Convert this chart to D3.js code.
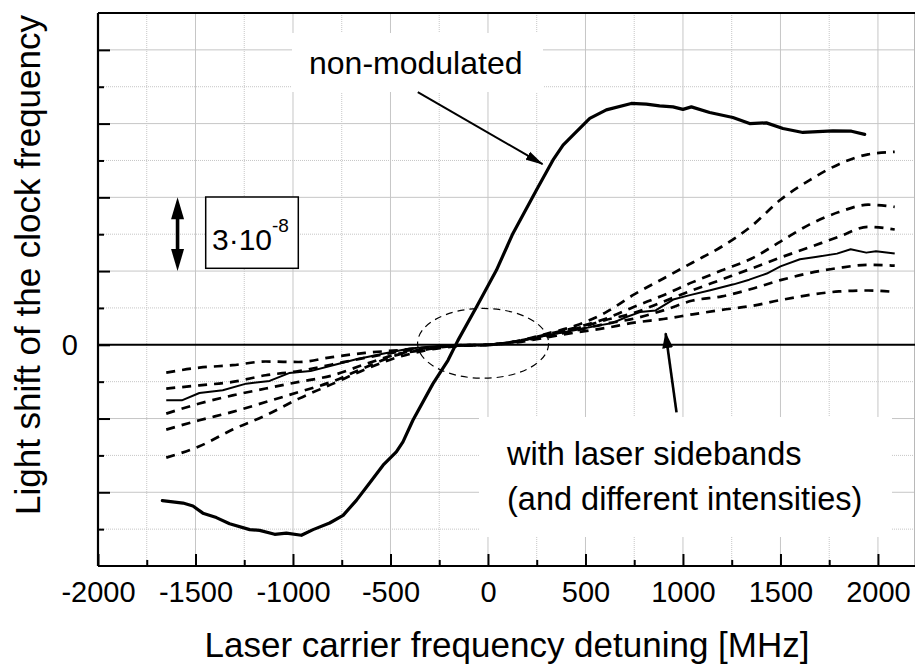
<!DOCTYPE html>
<html>
<head>
<meta charset="utf-8">
<title>Light shift vs detuning</title>
<script src="https://cdn.jsdelivr.net/npm/d3@7"></script>
<style>
  body { margin: 0; background: #fff; }
  #chart text { font-family: "Liberation Sans", Arial, sans-serif; fill: #000; }
  #chart .tick line { stroke: #000; stroke-width: 2; }
  #chart .domain { display: none; }
</style>
</head>
<body>
<svg id="chart"></svg>
<script>
// x: laser carrier detuning [MHz], y: light shift in units of 1e-8
var xTicks = [-2000, -1500, -1000, -500, 0, 500, 1000, 1500, 2000];
var xMinor = [-1750, -1250, -750, -250, 250, 750, 1250, 1750];
var yTicks = [-6, -3, 0, 3, 6, 9, 12];
var yMinor = [-7.5, -4.5, -1.5, 1.5, 4.5, 7.5, 10.5];

// non-modulated laser
var nonModX = [-1670, -1564, -1513, -1462, -1393, -1325, -1222, -1171, -1094, -1034, -957, -897, -812, -743, -675, -607, -538, -470, -436, -385, -282, -205, -154, -59, 43, 128, 248, 333, 385, 436, 522, 607, 735, 812, 880, 949, 1000, 1043, 1137, 1256, 1342, 1428, 1513, 1615, 1769, 1864, 1932];
var nonModY = [-6.34, -6.44, -6.56, -6.85, -7.03, -7.28, -7.52, -7.55, -7.71, -7.66, -7.75, -7.52, -7.25, -6.94, -6.33, -5.62, -4.90, -4.36, -3.95, -3.07, -1.58, -0.63, 0.18, 1.54, 3.03, 4.53, 6.29, 7.51, 8.12, 8.53, 9.21, 9.56, 9.82, 9.79, 9.72, 9.68, 9.58, 9.68, 9.45, 9.25, 9.00, 9.03, 8.80, 8.64, 8.70, 8.69, 8.56];

// with laser sidebands, different intensities (dashed)
var sideX = [-1650, -1480, -1310, -1140, -970, -800, -630, -460, -300, -150, 0, 150, 300, 450, 600, 750, 900, 1050, 1200, 1350, 1500, 1650, 1800, 1950, 2086];
var sideA = [-4.59, -4.13, -3.45, -2.87, -2.19, -1.60, -1.00, -0.50, -0.20, -0.05, 0.00, 0.15, 0.45, 0.78, 1.30, 2.05, 2.70, 3.35, 4.00, 4.82, 5.90, 6.70, 7.35, 7.75, 7.85];
var sideB = [-3.45, -3.07, -2.73, -2.33, -1.92, -1.50, -0.92, -0.40, -0.17, -0.03, 0.00, 0.15, 0.42, 0.70, 1.05, 1.55, 2.02, 2.55, 3.03, 3.50, 4.20, 4.90, 5.40, 5.70, 5.61];
var sideC = [-2.80, -2.39, -2.06, -1.78, -1.51, -1.25, -0.79, -0.37, -0.15, -0.03, 0.00, 0.14, 0.40, 0.65, 1.00, 1.30, 1.76, 2.22, 2.66, 3.10, 3.55, 3.97, 4.40, 4.80, 4.69];
var sideD = [-1.78, -1.65, -1.51, -1.24, -1.07, -0.80, -0.53, -0.29, -0.12, -0.02, 0.00, 0.13, 0.35, 0.58, 0.85, 1.07, 1.40, 1.80, 1.97, 2.27, 2.63, 2.92, 3.13, 3.25, 3.22];
var sideE = [-1.13, -0.93, -0.83, -0.68, -0.70, -0.50, -0.33, -0.22, -0.10, -0.02, 0.00, 0.10, 0.30, 0.50, 0.68, 0.90, 1.05, 1.24, 1.42, 1.58, 1.82, 2.03, 2.17, 2.21, 2.15];

// with laser sidebands (solid thin)
var solidX = [-1650, -1570, -1480, -1360, -1240, -1120, -1020, -910, -800, -680, -540, -400, -300, -150, 0, 150, 300, 450, 570, 640, 710, 780, 860, 950, 1030, 1140, 1260, 1340, 1430, 1500, 1600, 1680, 1790, 1860, 1940, 1990, 2086];
var solidY = [-2.26, -2.26, -1.96, -1.85, -1.58, -1.47, -1.15, -1.07, -0.84, -0.60, -0.36, -0.15, -0.08, 0.00, 0.00, 0.14, 0.38, 0.60, 0.79, 0.89, 1.13, 1.33, 1.40, 1.84, 2.01, 2.22, 2.46, 2.65, 2.90, 3.19, 3.48, 3.57, 3.71, 3.89, 3.75, 3.81, 3.71];

var margin = {top: 13, right: 1, bottom: 100, left: 98};
var width = 916 - margin.left - margin.right,
    height = 666 - margin.top - margin.bottom;

var svg = d3.select("#chart")
    .attr("width", 916)
    .attr("height", 666);

var x = d3.scaleLinear().domain([-2000, 2190]).range([0, width]);
var y = d3.scaleLinear().domain([-9, 13.5]).range([height, 0]);

var gridG = svg.append("g").attr("transform", "translate(" + margin.left + "," + margin.top + ")");
var boxG = svg.append("g");
var plot = svg.append("g").attr("transform", "translate(" + margin.left + "," + margin.top + ")");
var notes = svg.append("g");

// grid
gridG.selectAll("line.vmaj").data(xTicks.slice(1)).enter().append("line")
    .attr("x1", d => x(d)).attr("x2", d => x(d)).attr("y1", 0).attr("y2", height)
    .attr("stroke", "#c6c6c6").attr("stroke-width", 1);
gridG.selectAll("line.vmin").data(xMinor).enter().append("line")
    .attr("x1", d => x(d)).attr("x2", d => x(d)).attr("y1", 0).attr("y2", height)
    .attr("stroke", "#c6c6c6").attr("stroke-width", 1).attr("stroke-dasharray", "1,1");
gridG.selectAll("line.hmaj").data(yTicks.filter(d => d !== 0)).enter().append("line")
    .attr("x1", 0).attr("x2", width).attr("y1", d => y(d)).attr("y2", d => y(d))
    .attr("stroke", "#c6c6c6").attr("stroke-width", 1);
gridG.selectAll("line.hmin").data(yMinor).enter().append("line")
    .attr("x1", 0).attr("x2", width).attr("y1", d => y(d)).attr("y2", d => y(d))
    .attr("stroke", "#c6c6c6").attr("stroke-width", 1).attr("stroke-dasharray", "1,1");
gridG.append("line").attr("x1", width - 0.5).attr("x2", width - 0.5).attr("y1", 0).attr("y2", height)
    .attr("stroke", "#b8b8b8").attr("stroke-width", 1);

// white boxes behind the labels
boxG.append("rect").attr("x", 292).attr("y", 33).attr("width", 251).attr("height", 59).attr("fill", "#fff");
boxG.append("rect").attr("x", 479).attr("y", 417).attr("width", 413).attr("height", 120).attr("fill", "#fff");

// frame + zero line
plot.append("line").attr("x1", 0).attr("x2", width).attr("y1", 0).attr("y2", 0).attr("stroke", "#000").attr("stroke-width", 2.2);
plot.append("line").attr("x1", 0).attr("x2", width).attr("y1", height).attr("y2", height).attr("stroke", "#000").attr("stroke-width", 2.2);
plot.append("line").attr("x1", 0).attr("x2", 0).attr("y1", 0).attr("y2", height).attr("stroke", "#000").attr("stroke-width", 2.2);
plot.append("line").attr("x1", 0).attr("x2", width).attr("y1", y(0)).attr("y2", y(0)).attr("stroke", "#000").attr("stroke-width", 2);

// axes (ticks point inward)
plot.append("g").attr("class", "x axis")
    .attr("transform", "translate(0," + height + ")")
    .call(d3.axisBottom(x).tickValues(xTicks).tickSize(-12).tickPadding(15).tickFormat(d => String(d)))
    .attr("font-size", 29).attr("font-family", null);
plot.append("g").attr("class", "x minor")
    .attr("transform", "translate(0," + height + ")")
    .call(d3.axisBottom(x).tickValues(xMinor).tickSize(-6).tickFormat(""));
plot.append("g").attr("class", "y axis")
    .call(d3.axisLeft(y).tickValues(yTicks).tickSize(-12).tickPadding(20).tickFormat(d => d === 0 ? "0" : ""))
    .attr("font-size", 29).attr("font-family", null);
plot.append("g").attr("class", "y minor")
    .call(d3.axisLeft(y).tickValues(yMinor).tickSize(-6).tickFormat(""));

// curves
var line = d3.line().x(d => x(d[0])).y(d => y(d[1]));
var smooth = d3.line().x(d => x(d[0])).y(d => y(d[1])).curve(d3.curveMonotoneX);

plot.append("path").datum(d3.zip(nonModX, nonModY))
    .attr("d", line).attr("fill", "none").attr("stroke", "#000")
    .attr("stroke-width", 3.2).attr("stroke-linejoin", "round").attr("stroke-linecap", "round");

[sideA, sideB, sideC, sideD, sideE].forEach(function (s) {
    plot.append("path").datum(d3.zip(sideX, s))
        .attr("d", smooth).attr("fill", "none").attr("stroke", "#000")
        .attr("stroke-width", 2.7).attr("stroke-dasharray", "9,7");
});

plot.append("path").datum(d3.zip(solidX, solidY))
    .attr("d", line).attr("fill", "none").attr("stroke", "#000")
    .attr("stroke-width", 2).attr("stroke-linejoin", "round");

// dashed ellipse around the crossing region
plot.append("ellipse")
    .attr("cx", x(-25)).attr("cy", y(0.06))
    .attr("rx", x(311) - x(-25)).attr("ry", y(0) - y(1.42))
    .attr("fill", "none").attr("stroke", "#000").attr("stroke-width", 1.2).attr("stroke-dasharray", "7,5");

// arrows
var defs = svg.append("defs");
defs.append("marker").attr("id", "head1")
    .attr("markerUnits", "userSpaceOnUse").attr("markerWidth", 18).attr("markerHeight", 10)
    .attr("refX", 17).attr("refY", 5).attr("orient", "auto")
    .append("path").attr("d", "M0,0.5 L18,5 L0,9.5 Z").attr("fill", "#000");
defs.append("marker").attr("id", "head2")
    .attr("markerUnits", "userSpaceOnUse").attr("markerWidth", 16).attr("markerHeight", 11)
    .attr("refX", 15).attr("refY", 5.5).attr("orient", "auto")
    .append("path").attr("d", "M0,0 L16,5.5 L0,11 Z").attr("fill", "#000");

plot.append("line")
    .attr("x1", x(-360)).attr("y1", y(10.28)).attr("x2", x(280)).attr("y2", y(7.35))
    .attr("stroke", "#000").attr("stroke-width", 2).attr("marker-end", "url(#head1)");
plot.append("line")
    .attr("x1", x(967)).attr("y1", y(-2.75)).attr("x2", x(911)).attr("y2", y(0.47))
    .attr("stroke", "#000").attr("stroke-width", 2.6).attr("marker-end", "url(#head2)");

// scale bar: 3e-8 double arrow
var sx = x(-1592);
plot.append("line").attr("x1", sx).attr("x2", sx).attr("y1", y(6) + 18).attr("y2", y(3) - 18)
    .attr("stroke", "#000").attr("stroke-width", 3.6);
plot.append("path")
    .attr("d", "M" + sx + "," + y(6) + " L" + (sx - 6.5) + "," + (y(6) + 22) + " L" + (sx + 6.5) + "," + (y(6) + 22) + " Z")
    .attr("fill", "#000");
plot.append("path")
    .attr("d", "M" + sx + "," + y(3) + " L" + (sx - 6.5) + "," + (y(3) - 22) + " L" + (sx + 6.5) + "," + (y(3) - 22) + " Z")
    .attr("fill", "#000");

notes.append("rect").attr("x", 205.7).attr("y", 197).attr("width", 92.6).attr("height", 71.3)
    .attr("fill", "#fff").attr("stroke", "#000").attr("stroke-width", 1.5);
var st = notes.append("text").attr("x", 212).attr("y", 249.5).attr("font-size", 30);
st.append("tspan").text("3\u00b710");
st.append("tspan").attr("dy", -18).attr("font-size", 19).text("-8");

// labels
notes.append("text").attr("x", 309).attr("y", 74).attr("font-size", 32).text("non-modulated");
notes.append("text").attr("x", 507).attr("y", 465).attr("font-size", 32.5).text("with laser sidebands");
notes.append("text").attr("x", 507).attr("y", 510).attr("font-size", 32.5).text("(and different intensities)");

// axis titles
notes.append("text").attr("x", 507).attr("y", 657).attr("text-anchor", "middle").attr("font-size", 35)
    .text("Laser carrier frequency detuning [MHz]");
notes.append("text").attr("transform", "translate(40,265) rotate(-90)").attr("text-anchor", "middle").attr("font-size", 35)
    .text("Light shift of the clock frequency");
</script>
</body>
</html>
